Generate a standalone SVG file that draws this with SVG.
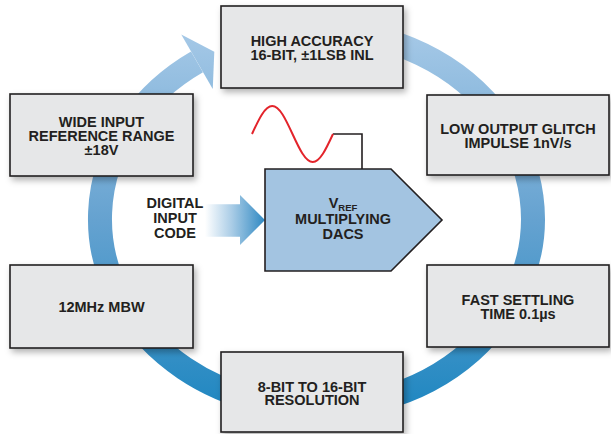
<svg xmlns="http://www.w3.org/2000/svg" width="611" height="434" viewBox="0 0 611 434">
  <style>
    .box { fill: #e6e7e8; stroke: #231f20; stroke-width: 1.6; filter: url(#shadow); }
    .lbl { font-family: "Liberation Sans", Arial, sans-serif; font-weight: bold; font-size: 14.5px; fill: #231f20; text-anchor: middle; }
  </style>
  <defs>
    <filter id="shadow" x="-10%" y="-15%" width="125%" height="140%">
      <feDropShadow dx="2.5" dy="3.5" stdDeviation="3" flood-color="#000" flood-opacity="0.3"/>
    </filter>
    <linearGradient id="ringGrad" gradientUnits="userSpaceOnUse" x1="0" y1="30" x2="0" y2="410">
      <stop offset="0" stop-color="#a6c9e7"/>
      <stop offset="0.5" stop-color="#65a2d0"/>
      <stop offset="1" stop-color="#1f87c1"/>
    </linearGradient>
    <linearGradient id="inGrad" gradientUnits="userSpaceOnUse" x1="205" y1="0" x2="265" y2="0">
      <stop offset="0" stop-color="#ffffff"/>
      <stop offset="0.45" stop-color="#a9cce6"/>
      <stop offset="1" stop-color="#2e88c2"/>
    </linearGradient>
  </defs>
  <rect width="611" height="434" fill="#ffffff"/>

  <g id="connectors">
    <path id="ring" d="M316.5,30.5 A216.5,188.5 0 1 1 197,61.8" fill="none" stroke="url(#ringGrad)" stroke-width="24"/>
    <polygon id="ring-head" points="181.25,34.5 214.3,51.8 212.75,89.1" fill="url(#ringGrad)"/>
    <polygon id="input-arrow" points="205,204.3 240,204.3 240,195 265,220 240,245 240,236.7 205,236.7" fill="url(#inGrad)"/>
    <polyline id="vref-wire" points="333,134 362,134 362,169" fill="none" stroke="#231f20" stroke-width="1.6"/>
    <path id="sine" d="M252,134 C258.77,119.3 264.96,106 272.25,106 C279.54,106 285.73,119.3 292.5,134 C299.27,148.7 305.46,162 312.75,162 C320.04,162 326.23,148.7 333,134" fill="none" stroke="#e3242b" stroke-width="2"/>
  </g>

  <g id="node-accuracy">
    <rect class="box" x="221" y="6" width="182" height="82"/>
    <text class="lbl" x="312" y="46">HIGH ACCURACY</text>
    <text class="lbl" x="312" y="59.5">16-BIT, ±1LSB INL</text>
  </g>
  <g id="node-reference">
    <rect class="box" x="10" y="94" width="183" height="82"/>
    <text class="lbl" x="101.5" y="126.5">WIDE INPUT</text>
    <text class="lbl" x="101.5" y="140.5">REFERENCE RANGE</text>
    <text class="lbl" x="101.5" y="154.5">±18V</text>
  </g>
  <g id="node-glitch">
    <rect class="box" x="427" y="95" width="182" height="80"/>
    <text class="lbl" x="518" y="133.5">LOW OUTPUT GLITCH</text>
    <text class="lbl" x="518" y="147.5">IMPULSE 1nV/s</text>
  </g>
  <g id="node-settling">
    <rect class="box" x="427" y="265" width="182" height="82"/>
    <text class="lbl" x="518" y="305">FAST SETTLING</text>
    <text class="lbl" x="518" y="319">TIME 0.1µs</text>
  </g>
  <g id="node-resolution">
    <rect class="box" x="221" y="352" width="182" height="80"/>
    <text class="lbl" x="312" y="391.5">8-BIT TO 16-BIT</text>
    <text class="lbl" x="312" y="405">RESOLUTION</text>
  </g>
  <g id="node-mbw">
    <rect class="box" x="10" y="265" width="183" height="83"/>
    <text class="lbl" x="101.5" y="311.5">12MHz MBW</text>
  </g>
  <g id="node-dac">
    <polygon points="265,169 391,169 442,220 391,271 265,271" fill="#a3c4e1" stroke="#231f20" stroke-width="1.6"/>
    <text class="lbl" x="343" y="208">V<tspan font-size="9.5px" dy="3">REF</tspan></text>
    <text class="lbl" x="343" y="223.5">MULTIPLYING</text>
    <text class="lbl" x="343" y="238.5">DACS</text>
  </g>
  <g id="node-input">
    <text class="lbl" x="175" y="208.3">DIGITAL</text>
    <text class="lbl" x="175" y="223.3">INPUT</text>
    <text class="lbl" x="175" y="238.3">CODE</text>
  </g>
</svg>
